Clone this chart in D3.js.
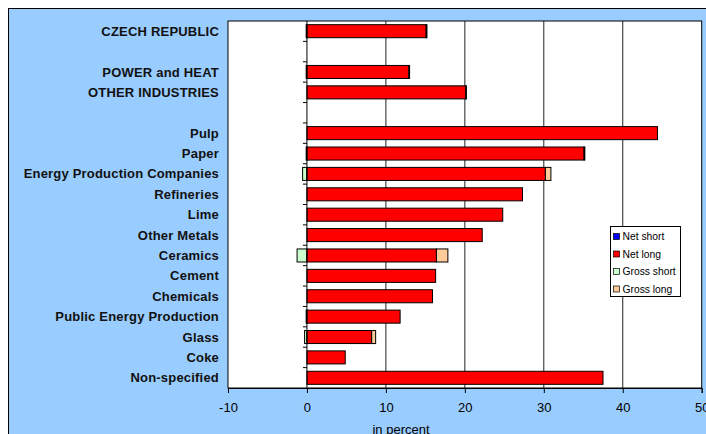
<!DOCTYPE html>
<html>
<head>
<meta charset="utf-8">
<script src="https://cdn.jsdelivr.net/npm/d3@7"></script>
<style>
  body { margin: 0; background: #fff; }
  svg { display: block; font-family: "Liberation Sans", Arial, sans-serif; }
</style>
</head>
<body>
<svg id="chart" width="706" height="434"></svg>
<script>
// categories, top to bottom ("" = empty slot)
var categories = ["CZECH REPUBLIC", "", "POWER and HEAT", "OTHER INDUSTRIES", " ",
    "Pulp", "Paper", "Energy Production Companies", "Refineries", "Lime",
    "Other Metals", "Ceramics", "Cement", "Chemicals", "Public Energy Production",
    "Glass", "Coke", "Non-specified"];
var netShort   = [-0.1, 0, -0.1, 0, 0, 0, -0.1, 0, 0, 0, 0, 0, 0, 0, -0.1, 0, 0, 0];
var netLong    = [15.1, 0, 12.9, 20.1, 0, 44.4, 35.1, 30.2, 27.3, 24.8, 22.2, 16.4, 16.3, 15.9, 11.8, 8.2, 4.85, 37.5];
var grossShort = [0, 0, 0, 0, 0, 0, 0, -0.55, 0, 0, 0, -1.25, 0, 0, 0, -0.3, 0, 0];
var grossLong  = [0.1, 0, 0.1, 0.1, 0, 0, 0.1, 0.7, 0, 0, 0, 1.45, 0, 0, 0, 0.5, 0, 0];
var xTicks = [-10, 0, 10, 20, 30, 40, 50];
var seriesNames = ["Net short", "Net long", "Gross short", "Gross long"];
var seriesColors = ["#0000ff", "#ff0000", "#ccffcc", "#ffcc99"];

var svg = d3.select("#chart");

// background panel
svg.append("rect")
    .attr("x", 8.5).attr("y", 8.5).attr("width", 705).attr("height", 440)
    .attr("fill", "#99ccff").attr("stroke", "#000").attr("stroke-width", 1);

var pLeft = 228, pRight = 701.7, pTop = 21, pBottom = 388;

var x = d3.scaleLinear().domain([-10, 50]).range([pLeft, pRight]);
var y = d3.scaleBand().domain(categories).range([pTop, pBottom]).paddingInner(0.36).paddingOuter(0.18);

// plot area
svg.append("rect")
    .attr("x", pLeft).attr("y", pTop).attr("width", pRight - pLeft).attr("height", pBottom - pTop)
    .attr("fill", "#fff");

// gridlines
svg.append("g").selectAll("line")
    .data([10, 20, 30, 40])
    .join("line")
    .attr("x1", d => x(d)).attr("x2", d => x(d))
    .attr("y1", pTop).attr("y2", pBottom)
    .attr("stroke", "#222").attr("stroke-width", 1);

// stacked bars
var rows = categories.map(function (c, i) {
    var segs = [];
    var ns = netShort[i], gs = grossShort[i];
    if (ns < 0) segs.push({ x0: ns, x1: 0, s: 0 });
    if (gs < 0) segs.push({ x0: ns + gs, x1: ns, s: 2 });
    if (netLong[i] > 0) segs.push({ x0: 0, x1: netLong[i], s: 1 });
    if (grossLong[i] > 0) segs.push({ x0: netLong[i], x1: netLong[i] + grossLong[i], s: 3 });
    return { cat: c, segs: segs };
});

var bars = svg.append("g");
rows.forEach(function (r) {
    bars.append("g").selectAll("rect")
        .data(r.segs)
        .join("rect")
        .attr("x", d => x(d.x0))
        .attr("y", y(r.cat))
        .attr("width", d => Math.max(x(d.x1) - x(d.x0), 0.5))
        .attr("height", y.bandwidth())
        .attr("fill", d => seriesColors[d.s])
        .attr("stroke", "#000").attr("stroke-width", 1);
});

// plot border
svg.append("rect")
    .attr("x", pLeft).attr("y", pTop).attr("width", pRight - pLeft).attr("height", pBottom - pTop)
    .attr("fill", "none").attr("stroke", "#000").attr("stroke-width", 1);

// x axis
var xAxis = svg.append("g")
    .attr("transform", "translate(0," + pBottom + ")")
    .call(d3.axisBottom(x).tickValues(xTicks).tickFormat(d => String(d)).tickSize(5).tickPadding(9.5));
xAxis.select(".domain").attr("stroke", "#000");
xAxis.selectAll("text").attr("font-size", 13).attr("fill", "#000")
    .attr("font-family", "Liberation Sans, Arial, sans-serif");

// category axis at zero
var yAxis = svg.append("g")
    .attr("transform", "translate(" + x(0) + ",0)");
yAxis.append("line")
    .attr("x1", 0).attr("x2", 0).attr("y1", pTop).attr("y2", pBottom)
    .attr("stroke", "#000");
yAxis.selectAll(".tk")
    .data(d3.range(1, categories.length))
    .join("line")
    .attr("x1", -4).attr("x2", 0)
    .attr("y1", d => pTop + d * (pBottom - pTop) / categories.length)
    .attr("y2", d => pTop + d * (pBottom - pTop) / categories.length)
    .attr("stroke", "#000");

// category labels
svg.append("g").selectAll("text")
    .data(categories.filter(c => c.trim() !== ""))
    .join("text")
    .attr("x", 219)
    .attr("y", d => y(d) + y.bandwidth() / 2)
    .attr("dy", "0.35em")
    .attr("text-anchor", "end")
    .attr("font-size", 13)
    .attr("letter-spacing", 0.2)
    .attr("font-weight", "bold")
    .attr("fill", "#111")
    .text(d => d);

// axis title
svg.append("text")
    .attr("x", 401).attr("y", 433.5)
    .attr("text-anchor", "middle")
    .attr("font-size", 13)
    .text("in percent");

// legend
var lg = svg.append("g").attr("transform", "translate(610.5,226.5)");
lg.append("rect").attr("width", 70).attr("height", 70)
    .attr("fill", "#fff").attr("stroke", "#000");
var items = lg.selectAll("g.it")
    .data(seriesNames)
    .join("g")
    .attr("class", "it")
    .attr("transform", (d, i) => "translate(3,  " + (10 + i * 17.5) + ")");
items.append("rect")
    .attr("x", 0).attr("y", -3).attr("width", 6).attr("height", 6)
    .attr("fill", (d, i) => seriesColors[i]).attr("stroke", "#000").attr("stroke-width", 0.7);
items.append("text")
    .attr("x", 9).attr("dy", "0.35em")
    .attr("font-size", 10.3)
    .text(d => d);
</script>
</body>
</html>
